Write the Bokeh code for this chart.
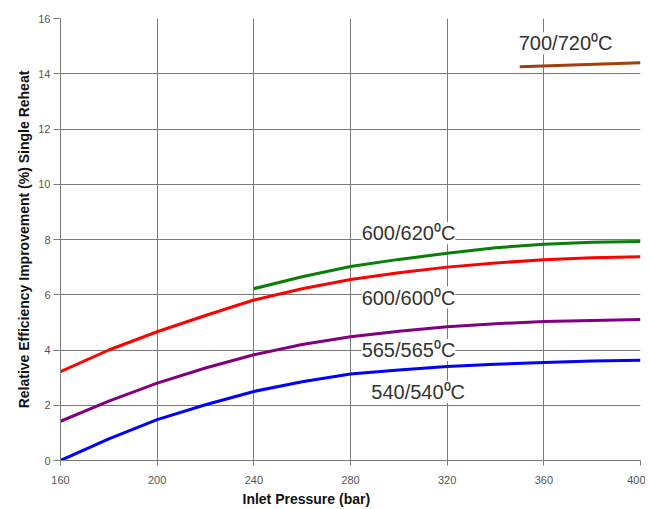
from bokeh.plotting import figure
from bokeh.models import Range1d, FixedTicker, ColumnDataSource, LabelSet, Title
from bokeh.core.properties import value
from bokeh.embed import file_html
from bokeh.resources import INLINE

# Data
pressure = [160, 180, 200, 220, 240, 260, 280, 300, 320, 340, 360, 380, 400]
eff_540_540 = [0.0, 0.78, 1.48, 2.02, 2.5, 2.85, 3.13, 3.28, 3.4, 3.48, 3.55, 3.6, 3.63]
eff_565_565 = [1.42, 2.15, 2.8, 3.35, 3.83, 4.2, 4.48, 4.68, 4.84, 4.95, 5.03, 5.07, 5.1]
eff_600_600 = [3.22, 4.0, 4.66, 5.25, 5.81, 6.22, 6.55, 6.8, 7.0, 7.15, 7.27, 7.34, 7.38]
pressure_620 = [240, 260, 280, 300, 320, 340, 360, 380, 400]
eff_600_620 = [6.22, 6.65, 7.02, 7.28, 7.5, 7.7, 7.83, 7.9, 7.93]
pressure_720 = [350, 375, 400]
eff_700_720 = [14.25, 14.33, 14.4]

label_text = ["700/720\u2070C", "600/620\u2070C", "600/600\u2070C", "565/565\u2070C", "540/540\u2070C"]
label_x = [369, 304, 304, 304, 308]
label_y = [15.1, 8.23, 5.9, 4.0, 2.49]

x_ticks = [160, 200, 240, 280, 320, 360, 400]
y_ticks = [0, 2, 4, 6, 8, 10, 12, 14, 16]

p = figure(width=645, height=509, output_backend="svg", toolbar_location=None,
           x_range=Range1d(160, 400), y_range=Range1d(0, 16),
           min_border_left=60, min_border_right=5, min_border_top=18, min_border_bottom=20)
p.outline_line_color = None
p.background_fill_color = "white"

grid_col = "#7a7a7a"
p.xgrid.grid_line_color = grid_col
p.ygrid.grid_line_color = grid_col
p.xaxis.ticker = FixedTicker(ticks=x_ticks)
p.yaxis.ticker = FixedTicker(ticks=y_ticks)

for ax in (p.xaxis[0], p.yaxis[0]):
    ax.axis_line_color = grid_col
    ax.major_tick_line_color = grid_col
    ax.minor_tick_line_color = None
    ax.major_tick_in = 0
    ax.major_label_text_font = "Liberation Sans"
    ax.major_label_text_font_size = "11px"
    ax.major_label_text_color = "#555555"
    ax.axis_label_text_font = "Liberation Sans"
    ax.axis_label_text_font_size = "14px"
    ax.axis_label_text_font_style = "bold"
    ax.axis_label_text_color = "#111111"

p.xaxis.major_tick_out = 5
p.yaxis.major_tick_out = 7
p.xaxis.major_label_standoff = 10
p.yaxis.major_label_standoff = 3
p.yaxis.axis_label = "Relative Efficiency Improvement (%) Single Reheat"
p.yaxis.axis_label_standoff = 3

p.add_layout(Title(text="Inlet Pressure (bar)", align="left", offset=182,
                   text_font="Liberation Sans", text_font_size="14px",
                   text_font_style="bold", text_color="#111111",
                   standoff=5), "below")

lw = 3
p.line(pressure, eff_540_540, line_color="#0000FF", line_width=lw)
p.line(pressure, eff_565_565, line_color="#800080", line_width=lw)
p.line(pressure, eff_600_600, line_color="#FF0000", line_width=lw)
p.line(pressure_620, eff_600_620, line_color="#0A7D0A", line_width=lw)
p.line(pressure_720, eff_700_720, line_color="#A0400F", line_width=lw)

src = ColumnDataSource(dict(x=label_x, y=label_y, t=label_text))
p.add_layout(LabelSet(x="x", y="y", text="t", source=src,
                      text_align="center", text_baseline="middle",
                      text_font=value("Liberation Sans"), text_font_size=value("20px"),
                      text_color="#333333", background_fill_color="white"))

open("out.html", "w").write(file_html(p, INLINE))
